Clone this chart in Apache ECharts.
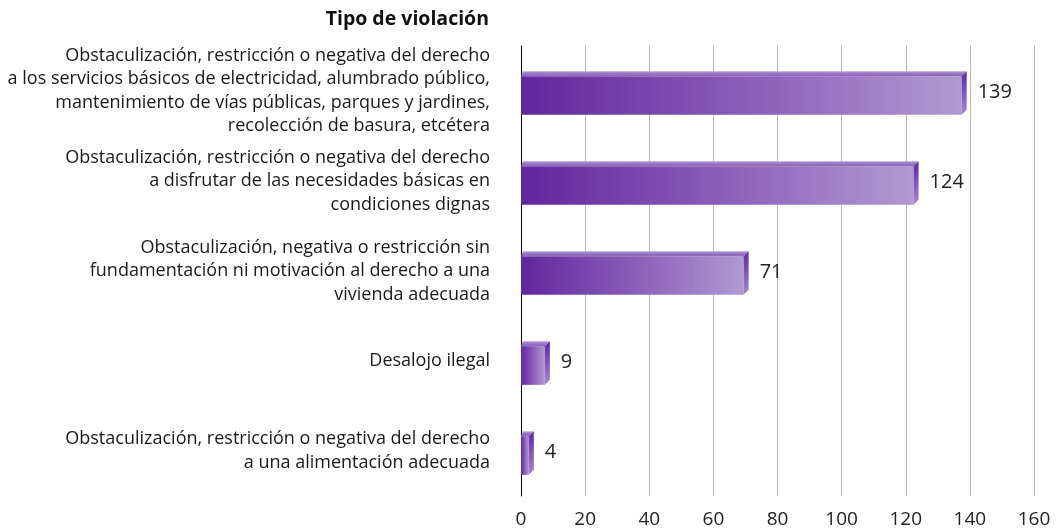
<!DOCTYPE html>
<html>
<head>
<meta charset="utf-8">
<script src="https://cdn.jsdelivr.net/npm/echarts@6/dist/echarts.min.js"></script>
<style>
  html, body { margin: 0; padding: 0; background: #fff; }
  #chart { width: 1056px; height: 531px; }
</style>
</head>
<body>
<div id="chart"></div>
<script>
var categories = [
    'Obstaculización, restricción o negativa del derecho\na los servicios básicos de electricidad, alumbrado público,\nmantenimiento de vías públicas, parques y jardines,\nrecolección de basura, etcétera',
    'Obstaculización, restricción o negativa del derecho\na disfrutar de las necesidades básicas en\ncondiciones dignas',
    'Obstaculización, negativa o restricción sin\nfundamentación ni motivación al derecho a una\nvivienda adecuada',
    'Desalojo ilegal',
    'Obstaculización, restricción o negativa del derecho\na una alimentación adecuada'
];
var values = [139, 124, 71, 9, 4];
var xTicks = [0, 20, 40, 60, 80, 100, 120, 140, 160];

var myChart = echarts.init(document.getElementById('chart'));

var fontFamily = '"Open Sans", "Noto Sans", sans-serif';

// barra con efecto 3D: frente, cara superior y cara lateral
function renderBar(params, api) {
    var v = api.value(0);
    var c = api.value(1);
    var end = api.coord([v, c]);
    var start = api.coord([0, c]);
    var band = api.size([0, 1])[1];
    var h = band * 0.43;
    var d = 5;
    var yc = end[1] + 4.5;
    var yT = yc - h / 2;
    var yB = yc + h / 2;
    var x0 = start[0];
    var x1 = end[0] - d;

    return {
        type: 'group',
        children: [{
            type: 'rect',
            shape: { x: x0, y: yT, width: x1 - x0, height: h },
            style: {
                fill: new echarts.graphic.LinearGradient(0, 0, 1, 0, [
                    { offset: 0, color: '#62269e' },
                    { offset: 0.5, color: '#8a5cb8' },
                    { offset: 1, color: '#b09ad2' }
                ])
            }
        }, {
            type: 'polygon',
            shape: { points: [[x0, yT], [x1, yT], [x1 + d, yT - d], [x0 + 2, yT - d]] },
            style: {
                fill: new echarts.graphic.LinearGradient(0, 0, 0, 1, [
                    { offset: 0, color: '#bba5db' },
                    { offset: 0.4, color: '#9c7ac6' },
                    { offset: 1, color: '#8c64ba' }
                ])
            }
        }, {
            type: 'polygon',
            shape: { points: [[x1, yT], [x1 + d, yT - d], [x1 + d, yB - d], [x1, yB]] },
            style: {
                fill: new echarts.graphic.LinearGradient(0, 0, 0, 1, [
                    { offset: 0, color: '#5f24a6' },
                    { offset: 1, color: '#a48ad0' }
                ])
            }
        }, {
            type: 'text',
            style: {
                x: x1 + d + 11,
                y: yc - 3,
                text: String(v),
                fill: '#222',
                fontSize: 20,
                fontFamily: fontFamily,
                verticalAlign: 'middle',
                align: 'left'
            }
        }]
    };
}

var option = {
    animation: false,
    title: {
        text: 'Tipo de violación',
        right: 562,
        top: 4,
        textStyle: {
            fontSize: 19.5,
            fontWeight: 'bold',
            color: '#111',
            fontFamily: fontFamily
        }
    },
    grid: {
        left: 521,
        right: 22,
        top: 46,
        bottom: 35
    },
    xAxis: {
        type: 'value',
        min: xTicks[0],
        max: xTicks[xTicks.length - 1],
        interval: xTicks[1] - xTicks[0],
        axisLine: { show: false },
        axisTick: { show: false },
        axisLabel: {
            margin: 14,
            fontSize: 19,
            color: '#222',
            fontFamily: fontFamily
        },
        splitLine: { lineStyle: { color: '#b8b8b8', width: 1 } }
    },
    yAxis: {
        type: 'category',
        inverse: true,
        data: categories,
        axisLine: { lineStyle: { color: '#000', width: 1 } },
        axisTick: { length: 11, lineStyle: { color: '#808080' } },
        axisLabel: {
            margin: 31,
            fontSize: 18,
            lineHeight: 23.5,
            color: '#1a1a1a',
            align: 'right',
            fontFamily: fontFamily
        }
    },
    series: [{
        type: 'custom',
        renderItem: renderBar,
        encode: { x: 0, y: 1 },
        data: values.map(function (v, i) { return [v, i]; }),
        z: 3
    }]
};

myChart.setOption(option);
</script>
</body>
</html>
